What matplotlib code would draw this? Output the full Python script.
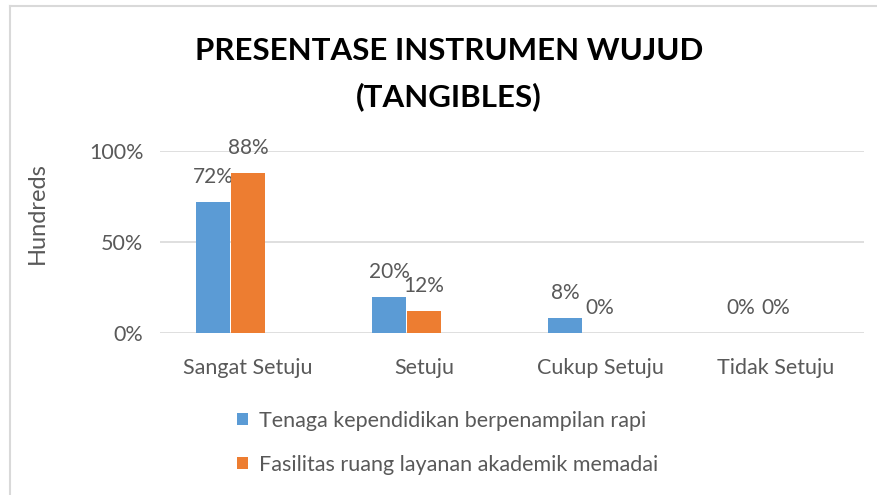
import numpy as np
import matplotlib.pyplot as plt
from matplotlib.lines import Line2D

# data
categories = ['Sangat Setuju', 'Setuju', 'Cukup Setuju', 'Tidak Setuju']
series_names = ['Tenaga kependidikan berpenampilan rapi',
                'Fasilitas ruang layanan akademik memadai']
tenaga = [0.72, 0.20, 0.08, 0.0]
fasilitas = [0.88, 0.12, 0.0, 0.0]
colors = ['#5b9bd5', '#ed7d31']

plt.rcParams['font.family'] = ['Lato', 'DejaVu Sans']
GRAY = '#595959'

fig = plt.figure(figsize=(8.78, 4.95), dpi=100)
W, H = 878, 495

# plot area in pixels: x 160..864, y 151..333
ax = fig.add_axes([160 / W, 1 - 333 / H, (864 - 160) / W, (333 - 151) / H])

x = np.arange(len(categories))
slot = 0.199  # excel group has a third (empty) slot, so bars sit left of centre
width = 0.193
offsets = [-slot, 0.0]

for vals, off, col, name in zip([tenaga, fasilitas], offsets, colors, series_names):
    bars = ax.bar(x + off, vals, width=width, color=col, label=name, zorder=3)
    for b, v in zip(bars, vals):
        ax.annotate(f'{v:.0%}', (b.get_x() + b.get_width() / 2, b.get_height()),
                    xytext=(0, 25), textcoords='offset pixels',
                    ha='center', va='center', fontsize=15, color=GRAY)

ax.set_xlim(-0.5, len(categories) - 0.5)
ax.set_ylim(0, 1)
ax.set_yticks([0, 0.5, 1.0])
ax.set_yticklabels(['0%', '50%', '100%'])
ax.set_xticks(x)
ax.set_xticklabels(categories)
ax.tick_params(axis='both', length=0, labelsize=15.5, labelcolor=GRAY)
ax.tick_params(axis='x', pad=18)
ax.tick_params(axis='y', pad=12)
ax.grid(axis='y', color='#d9d9d9', linewidth=1.2, zorder=0)
for s in ax.spines.values():
    s.set_visible(False)

fig.text(37 / W, 1 - 213 / H, 'Hundreds', rotation=90, ha='center', va='center',
         fontsize=17, color=GRAY)

fig.text(449 / W, 1 - 51 / H, 'PRESENTASE INSTRUMEN WUJUD', ha='center', va='center',
         fontsize=22.5, fontweight='bold', color='black')
fig.text(449 / W, 1 - 97 / H, '(TANGIBLES)', ha='center', va='center',
         fontsize=22.5, fontweight='bold', color='black')

leg = fig.legend(loc='upper left', bbox_to_anchor=(237 / W, 1 - 411 / H),
                 frameon=False, fontsize=15.5, labelcolor=GRAY,
                 handlelength=0.5, handleheight=0.5, handletextpad=0.5,
                 labelspacing=1.1, borderpad=0, borderaxespad=0)

# chart border (left and top edges visible)
fig.add_artist(Line2D([10 / W, 10 / W], [0, 1 - 6 / H], color='#d9d9d9', lw=1.5,
                      transform=fig.transFigure))
fig.add_artist(Line2D([10 / W, 1], [1 - 6 / H, 1 - 6 / H], color='#d9d9d9', lw=1.5,
                      transform=fig.transFigure))

fig.savefig('out.png', dpi=100)
